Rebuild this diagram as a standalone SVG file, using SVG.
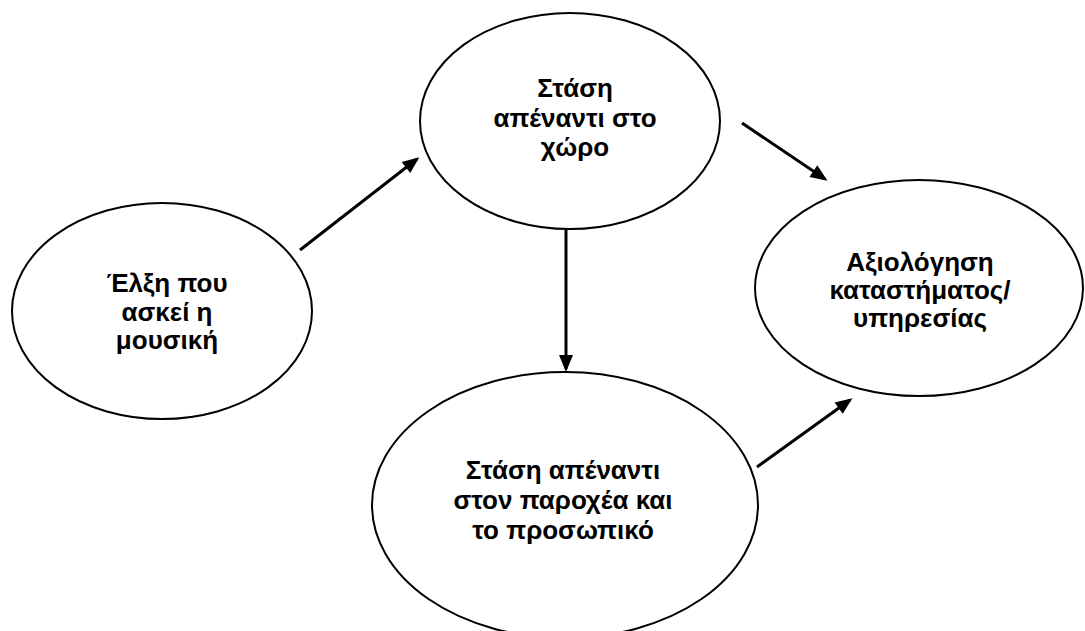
<svg xmlns="http://www.w3.org/2000/svg" width="1085" height="631" viewBox="0 0 1085 631">
<style>
.n{fill:#fff;stroke:#000;stroke-width:2}
.t{font-family:"Liberation Sans",Arial,sans-serif;font-weight:bold;font-size:26px;text-anchor:middle;fill:#000}
.c{stroke:#000;stroke-width:3;fill:none}
</style>
<defs>
<marker id="ah" viewBox="0 0 17 14" refX="14" refY="7" markerWidth="17" markerHeight="14" markerUnits="userSpaceOnUse" orient="auto" overflow="visible">
<path d="M0,0 L17,7 L0,14 Z" fill="#000"/>
</marker>
</defs>
<rect width="1085" height="631" fill="#fff"/>
<g id="connectors">
<line class="c" x1="300" y1="250" x2="417" y2="159" marker-end="url(#ah)"/>
<line class="c" x1="742" y1="123" x2="825" y2="179" marker-end="url(#ah)"/>
<line class="c" x1="566" y1="229" x2="566" y2="369" marker-end="url(#ah)"/>
<line class="c" x1="757" y1="467" x2="850" y2="400" marker-end="url(#ah)"/>
</g>
<g id="n1">
<ellipse class="n" cx="162" cy="311" rx="150" ry="108"/>
<text class="t" x="167" y="292">Έλξη που</text>
<text class="t" x="167" y="321">ασκεί η</text>
<text class="t" x="167" y="349">μουσική</text>
</g>
<g id="n2">
<ellipse class="n" cx="570" cy="121" rx="150" ry="108"/>
<text class="t" x="575" y="97">Στάση</text>
<text class="t" x="575" y="127">απέναντι στο</text>
<text class="t" x="575" y="156">χώρο</text>
</g>
<g id="n3">
<ellipse class="n" cx="919" cy="288" rx="164" ry="108"/>
<text class="t" x="920" y="271">Αξιολόγηση</text>
<text class="t" x="920" y="299">καταστήματος/</text>
<text class="t" x="920" y="327">υπηρεσίας</text>
</g>
<g id="n4">
<ellipse class="n" cx="565" cy="505" rx="193" ry="133"/>
<text class="t" x="563" y="479">Στάση απέναντι</text>
<text class="t" x="563" y="509">στον παροχέα και</text>
<text class="t" x="563" y="539">το προσωπικό</text>
</g>
</svg>
